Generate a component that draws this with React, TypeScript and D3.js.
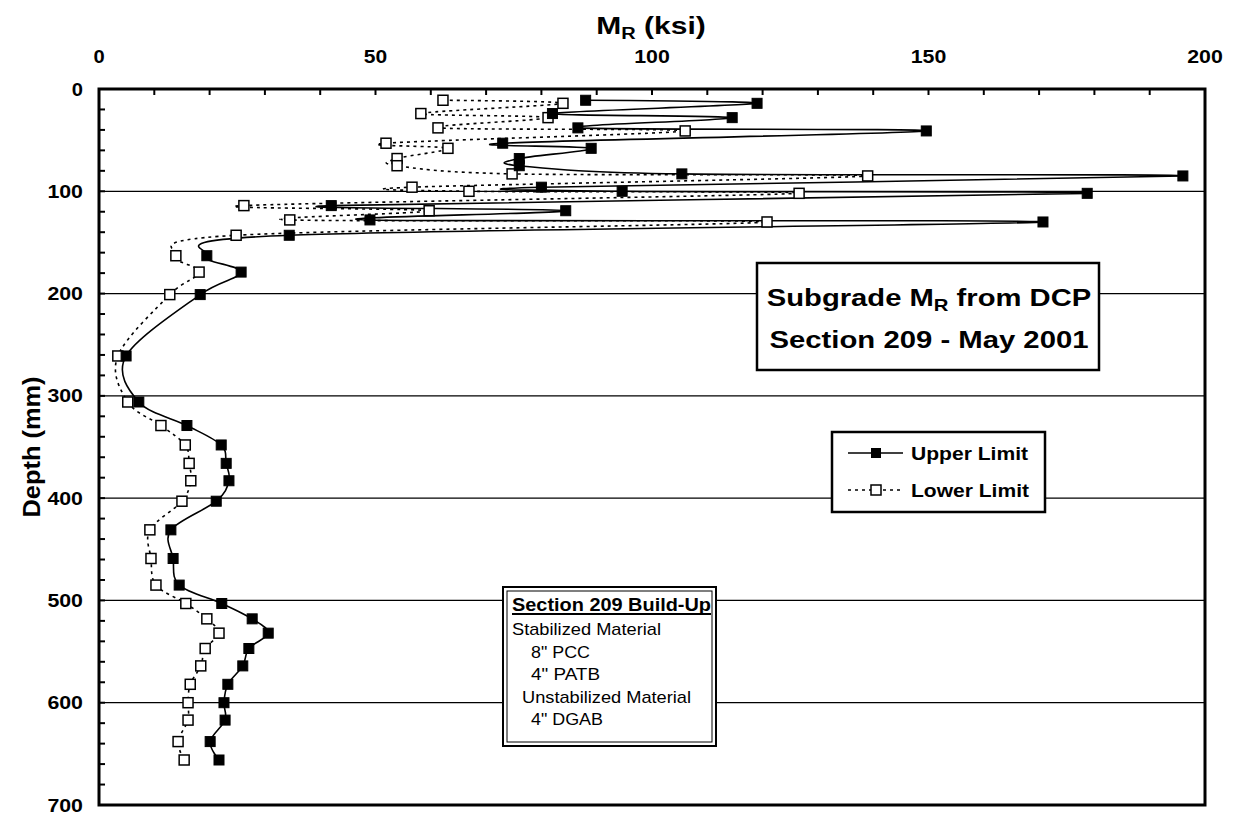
import React from "react";
import * as d3 from "d3";

const depths = [11, 14, 24, 28, 38, 41, 53, 58, 68, 75, 83, 85, 96, 100, 102, 114, 119, 128, 130, 143, 163, 179, 201, 261, 306, 329, 348, 366, 383, 403, 431, 459, 485, 503, 518, 532, 547, 564, 582, 600, 617, 638, 656];
const upperLimit = [88, 119, 82, 114.5, 86.6, 149.6, 73, 89, 76, 76, 105.4, 196, 80, 94.6, 178.7, 42, 84.4, 49, 170.7, 34.4, 19.5, 25.7, 18.3, 4.9, 7.2, 15.9, 22.1, 23, 23.5, 21.2, 13, 13.4, 14.5, 22.2, 27.7, 30.6, 27.1, 26, 23.3, 22.6, 22.8, 20.1, 21.7];
const lowerLimit = [62.2, 83.9, 58.2, 81.2, 61.3, 106, 51.9, 63.1, 53.9, 53.9, 74.7, 139, 56.6, 66.9, 126.6, 26.2, 59.7, 34.5, 120.8, 24.8, 13.9, 18.1, 12.8, 3.4, 5.2, 11.2, 15.6, 16.3, 16.6, 15, 9.2, 9.4, 10.3, 15.7, 19.5, 21.7, 19.2, 18.4, 16.5, 16.1, 16.1, 14.3, 15.4];
const xTicks = [0, 50, 100, 150, 200];
const yTicks = [0, 100, 200, 300, 400, 500, 600, 700];
const buildUpLines = ["Stabilized Material", "8\" PCC", "4\" PATB", "Unstabilized Material", "4\" DGAB"];
const buildUpIndent = [0, 19, 19, 10, 19];
const buildUpWidths = [149, 59, 69, 169, 72];

const FONT = "Arial, 'Liberation Sans', Helvetica, sans-serif";

export default function App() {
  const L = 99, R = 1205, T = 89, B = 805;
  const x = d3.scaleLinear().domain([0, 200]).range([L, R]);
  const y = d3.scaleLinear().domain([0, 700]).range([T, B]);

  const up = depths.map((d, i) => [upperLimit[i], d] as [number, number]);
  const lo = depths.map((d, i) => [lowerLimit[i], d] as [number, number]);
  const line = d3
    .line<[number, number]>()
    .x((p) => x(p[0]))
    .y((p) => y(p[1]))
    .curve(d3.curveCatmullRom.alpha(0));

  const minorX = d3.range(0, 201, 10);
  const minorY = d3.range(0, 701, 20);
  const ms = 10;
  const lab = (t: number) => String(t).length * 12.2 - 1;

  return (
    <svg width={1239} height={816} style={{ position: "absolute", left: 0, top: 0, background: "#fff" }} fontFamily={FONT}>
      <rect x={0} y={0} width={1239} height={816} fill="#fff" />
      {/* gridlines */}
      {yTicks.filter((t) => t > 0 && t < 700).map((t) => (
        <line key={"g" + t} x1={L} x2={R} y1={y(t)} y2={y(t)} stroke="#000" strokeWidth={1.2} />
      ))}
      {/* minor ticks */}
      {minorX.map((t) => (
        <line key={"tx" + t} x1={x(t)} x2={x(t)} y1={T} y2={T + 6} stroke="#000" strokeWidth={2} />
      ))}
      {minorY.map((t) => (
        <line key={"ty" + t} x1={L} x2={L + 6} y1={y(t)} y2={y(t)} stroke="#000" strokeWidth={2} />
      ))}
      {/* series lines */}
      <path d={line(lo) || ""} fill="none" stroke="#000" strokeWidth={1.6} strokeDasharray="3,4" />
      <path d={line(up) || ""} fill="none" stroke="#000" strokeWidth={1.6} />
      {lo.map((p, i) => (
        <rect key={"lo" + i} x={x(p[0]) - ms / 2} y={y(p[1]) - ms / 2} width={ms} height={ms} fill="#fff" stroke="#000" strokeWidth={1.5} />
      ))}
      {up.map((p, i) => (
        <rect key={"up" + i} x={x(p[0]) - ms / 2} y={y(p[1]) - ms / 2} width={ms} height={ms} fill="#000" stroke="#000" strokeWidth={1} />
      ))}
      {/* frame */}
      <rect x={L} y={T} width={R - L} height={B - T} fill="none" stroke="#000" strokeWidth={3} />
      {/* axis labels */}
      {xTicks.map((t) => (
        <text key={"xl" + t} x={x(t)} y={63} textAnchor="middle" fontSize={18} fontWeight="bold" textLength={lab(t)} lengthAdjust="spacingAndGlyphs">{t}</text>
      ))}
      {yTicks.map((t) => (
        <text key={"yl" + t} x={83} y={y(t) + 6.5} textAnchor="end" fontSize={18} fontWeight="bold" textLength={lab(t)} lengthAdjust="spacingAndGlyphs">{t}</text>
      ))}
      <g transform="translate(651,34) scale(1.25,1)">
        <text x={0} y={0} textAnchor="middle" fontSize={24} fontWeight="bold">
          M<tspan fontSize={16} dy={5}>R</tspan><tspan dy={-5}> (ksi)</tspan>
        </text>
      </g>
      <text transform={`translate(40,${447}) rotate(-90)`} textAnchor="middle" fontSize={23} fontWeight="bold" textLength={141} lengthAdjust="spacingAndGlyphs">Depth (mm)</text>

      {/* title box */}
      <rect x={757} y={263} width={342} height={107} fill="#fff" stroke="#000" strokeWidth={2.5} />
      <g transform="translate(929,306) scale(1.27,1)">
        <text x={0} y={0} textAnchor="middle" fontSize={23} fontWeight="bold">
          Subgrade M<tspan fontSize={16} dy={5}>R</tspan><tspan dy={-5}> from DCP</tspan>
        </text>
      </g>
      <text x={929} y={348} textAnchor="middle" fontSize={23} fontWeight="bold" textLength={319} lengthAdjust="spacingAndGlyphs">Section 209 - May 2001</text>

      {/* legend */}
      <rect x={832} y={432} width={213} height={80} fill="#fff" stroke="#000" strokeWidth={2.5} />
      <line x1={848} x2={903} y1={453} y2={453} stroke="#000" strokeWidth={1.6} />
      <rect x={876 - 5} y={453 - 5} width={10} height={10} fill="#000" />
      <text x={911} y={460} fontSize={18.5} fontWeight="bold" textLength={117} lengthAdjust="spacingAndGlyphs">Upper Limit</text>
      <line x1={848} x2={903} y1={490} y2={490} stroke="#000" strokeWidth={1.6} strokeDasharray="3,4" />
      <rect x={876 - 5} y={490 - 5} width={10} height={10} fill="#fff" stroke="#000" strokeWidth={1.5} />
      <text x={911} y={497} fontSize={18.5} fontWeight="bold" textLength={118} lengthAdjust="spacingAndGlyphs">Lower Limit</text>

      {/* build-up box */}
      <rect x={503} y={587} width={213} height={159} fill="#fff" stroke="#000" strokeWidth={2} />
      <rect x={507} y={591} width={205} height={151} fill="none" stroke="#000" strokeWidth={1} />
      <text x={512} y={611} fontSize={18} fontWeight="bold" textLength={199} lengthAdjust="spacingAndGlyphs">Section 209 Build-Up</text>
      <line x1={512} x2={711} y1={614} y2={614} stroke="#000" strokeWidth={2} />
      {buildUpLines.map((s, i) => (
        <text key={"bu" + i} x={512 + buildUpIndent[i]} y={635 + i * 22.6} fontSize={17} textLength={buildUpWidths[i]} lengthAdjust="spacingAndGlyphs">{s}</text>
      ))}
    </svg>
  );
}
